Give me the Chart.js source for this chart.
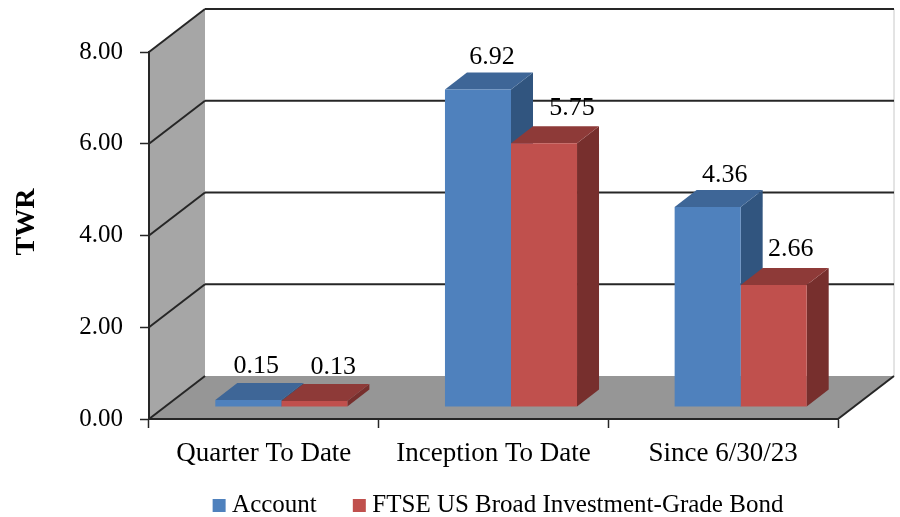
<!DOCTYPE html>
<html>
<head>
<meta charset="utf-8">
<title>TWR</title>
<script src="https://cdn.jsdelivr.net/npm/chart.js@4"></script>
<style>
    html, body { margin: 0; padding: 0; background: #fff; }
    canvas { display: block; }
</style>
</head>
<body>
<canvas id="twrChart" width="900" height="517"></canvas>
<script>
/*====================================
        Data
====================================*/

const categories = ["Quarter To Date", "Inception To Date", "Since 6/30/23"];
const accountValues = [0.15, 6.92, 4.36];
const benchmarkValues = [0.13, 5.75, 2.66];
const yTickLabels = ["0.00", "2.00", "4.00", "6.00", "8.00"];

/*====================================
        3D look
====================================*/

const SERIF = "'Liberation Serif', 'Times New Roman', serif";

// depth of the box, and of the bars inside it
const BOX = { dx: 56, dy: -43 };
const BAR = { dx: 22, dy: -17, shiftX: 17.5, shiftY: -12 };

const faceColors = [
    { front: "#4f81bd", top: "#3e6697", side: "#31557f" },
    { front: "#c0504d", top: "#8e3a38", side: "#772f2d" }
];

// the labels in the picture were nudged by hand
const labelNudge = [
    [{ x: 8, y: -34 }, { x: 14, y: -32 }, { x: 17, y: -32 }],
    [{ x: 19, y: -34 }, { x: 28, y: -35 }, { x: 17, y: -36 }]
];

function fillPoly(ctx, points, color) {
    ctx.fillStyle = color;
    ctx.beginPath();
    points.forEach((p, i) => i ? ctx.lineTo(p[0], p[1]) : ctx.moveTo(p[0], p[1]));
    ctx.closePath();
    ctx.fill();
}

function strokeLine(ctx, x1, y1, x2, y2, color, width) {
    ctx.strokeStyle = color;
    ctx.lineWidth = width;
    ctx.beginPath();
    ctx.moveTo(x1, y1);
    ctx.lineTo(x2, y2);
    ctx.stroke();
}

const boxPlugin = {
    id: "box3d",

    afterLayout(chart) {
        // legend sits to the right of the page centre, close to the bottom edge
        chart.legend.left += 76;
        chart.legend.right += 76;
        chart.legend.top += 13;
        chart.legend.bottom += 13;
        // room for the category labels, they get clipped to the scale box
        chart.scales.x.bottom += 50;
    },

    beforeDraw(chart) {
        const ctx = chart.ctx;
        const { left, right, top, bottom } = chart.chartArea;
        const backL = left + BOX.dx;
        const backR = right + BOX.dx;
        const backT = top + BOX.dy;
        const backB = bottom + BOX.dy;

        ctx.save();

        fillPoly(ctx, [[left, top], [backL, backT], [backL, backB], [left, bottom]], "#a6a6a6");
        fillPoly(ctx, [[left, bottom], [backL, backB], [backR, backB], [right, bottom]], "#969696");

        strokeLine(ctx, backR, backT, backR, backB, "#c8c8c8", 1);

        chart.scales.y.ticks.forEach(tick => {
            if (tick.value === 0) return;
            const y = chart.scales.y.getPixelForValue(tick.value);
            strokeLine(ctx, left, y, backL, y + BOX.dy, "#262626", 2);
            strokeLine(ctx, backL, y + BOX.dy, backR, y + BOX.dy, "#262626", 2);
        });

        strokeLine(ctx, left, bottom, backL, backB, "#262626", 2);
        strokeLine(ctx, right, bottom, backR, backB, "#262626", 2);

        // axis title sits a little above the middle of the axis
        ctx.translate(27, 222);
        ctx.rotate(-Math.PI / 2);
        ctx.fillStyle = "#000";
        ctx.font = "bold 28px " + SERIF;
        ctx.textAlign = "center";
        ctx.textBaseline = "middle";
        ctx.fillText("TWR", 0, 0);

        ctx.restore();
    },

    beforeDatasetsDraw(chart) {
        const ctx = chart.ctx;
        ctx.save();
        ctx.translate(BAR.shiftX, BAR.shiftY);

        // side and top faces first, the library paints the fronts over them
        chart.data.datasets.forEach((ds, di) => {
            chart.getDatasetMeta(di).data.forEach(bar => {
                const l = bar.x - bar.width / 2;
                const r = bar.x + bar.width / 2;
                fillPoly(ctx, [[r, bar.y], [r + BAR.dx, bar.y + BAR.dy], [r + BAR.dx, bar.base + BAR.dy], [r, bar.base]], faceColors[di].side);
                fillPoly(ctx, [[l, bar.y], [l + BAR.dx, bar.y + BAR.dy], [r + BAR.dx, bar.y + BAR.dy], [r, bar.y]], faceColors[di].top);
            });
        });
    },

    afterDatasetsDraw(chart) {
        const ctx = chart.ctx;
        ctx.restore();

        ctx.save();
        ctx.fillStyle = "#000";
        ctx.font = "26px " + SERIF;
        ctx.textAlign = "center";
        ctx.textBaseline = "middle";

        chart.data.datasets.forEach((ds, di) => {
            chart.getDatasetMeta(di).data.forEach((bar, i) => {
                const nudge = labelNudge[di][i];
                ctx.fillText(ds.data[i].toFixed(2), bar.x + BAR.shiftX + nudge.x, bar.y + BAR.shiftY + nudge.y);
            });
        });

        ctx.restore();
    }
};

/*====================================
        Chart
====================================*/

new Chart(document.getElementById("twrChart"), {

    type: "bar",

    data: {

        labels: categories,

        datasets: [{
            label: "Account",
            data: accountValues,
            backgroundColor: faceColors[0].front
        }, {
            label: "FTSE US Broad Investment-Grade Bond",
            data: benchmarkValues,
            backgroundColor: faceColors[1].front
        }]

    },

    plugins: [boxPlugin],

    options: {

        responsive: false,
        animation: false,

        categoryPercentage: 0.575,
        barPercentage: 1,

        layout: {
            padding: { top: 52, right: 62, bottom: 2, left: 12 }
        },

        plugins: {
            tooltip: { enabled: false },
            legend: {
                position: "bottom",
                labels: {
                    boxWidth: 1,
                    boxHeight: 1,
                    padding: 42,
                    color: "#000",
                    font: { family: SERIF, size: 25 },
                    // tiny box plus a thick border keeps the text close to the swatch
                    generateLabels: chart =>
                        Chart.defaults.plugins.legend.labels.generateLabels(chart).map(item => ({
                            ...item,
                            lineWidth: 12,
                            strokeStyle: item.fillStyle
                        }))
                }
            }
        },

        scales: {

            x: {
                grid: {
                    drawOnChartArea: false,
                    tickLength: 9,
                    tickColor: "#262626",
                    tickWidth: 1.5
                },
                border: { color: "#262626", width: 2 },
                ticks: {
                    color: "#000",
                    padding: 10,
                    maxRotation: 0,
                    font: { family: SERIF, size: 27 }
                },
                afterFit(scale) { scale.height = 19; }
            },

            y: {
                min: 0,
                max: 8,
                grid: {
                    drawOnChartArea: false,
                    tickLength: 9,
                    tickColor: "#262626",
                    tickWidth: 1.5
                },
                border: { color: "#262626", width: 2 },
                ticks: {
                    stepSize: 2,
                    color: "#000",
                    padding: 17,
                    font: { family: SERIF, size: 25 },
                    callback: (value, index) => yTickLabels[index]
                },
                afterFit(scale) { scale.width = 137; }
            }

        }

    }

});
</script>
</body>
</html>
